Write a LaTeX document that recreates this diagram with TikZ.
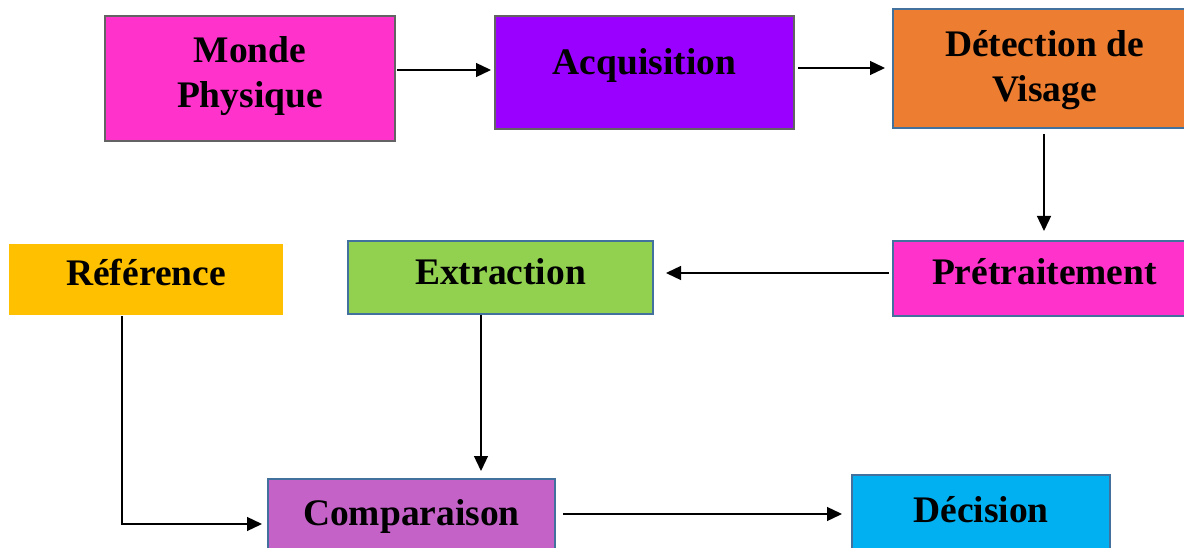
\documentclass[tikz,border=0pt]{standalone}
\usepackage{fontspec}
\setmainfont{Liberation Serif}
\usetikzlibrary{arrows.meta}

\definecolor{pinkbox}{HTML}{FF33CC}
\definecolor{violetbox}{HTML}{9900FF}
\definecolor{orangebox}{HTML}{ED7D31}
\definecolor{goldbox}{HTML}{FFC000}
\definecolor{greenbox}{HTML}{92D050}
\definecolor{orchidbox}{HTML}{C462C8}
\definecolor{cyanbox}{HTML}{00B0F0}
\definecolor{grayedge}{HTML}{636363}
\definecolor{blueedge}{HTML}{41719C}

% text inside a box: baseline placed #1 pt below the box centre
\newcommand{\boxtext}[2]{\raisebox{-#1pt}[0pt][0pt]{#2}}
\newcommand{\twolines}[2]{\begin{tabular}[b]{@{}c@{}}#1\\#2\end{tabular}}

\begin{document}
\begin{tikzpicture}[x=1pt,y=-1pt,
  stage/.style={rectangle, draw=blueedge, line width=2pt, inner sep=0pt,
    font=\fontsize{37.5}{45}\selectfont\bfseries},
  arr/.style={line width=1.3pt, -{Triangle[length=15pt,width=14pt]}}
]
\clip (0,0) rectangle (1184,548);
\fill[white] (0,0) rectangle (1184,548);

% boxes
\node[stage, draw=grayedge, fill=pinkbox, minimum width=290pt, minimum height=125pt]
  (mp) at (250,78.5) {\boxtext{29.5}{\twolines{Monde}{Physique}}};
\node[stage, draw=grayedge, fill=violetbox, minimum width=299pt, minimum height=113pt]
  (acq) at (644.5,72.5) {\boxtext{2.5}{Acquisition}};
\node[stage, fill=orangebox, minimum width=303pt, minimum height=119pt]
  (det) at (1044.5,68.5) {\boxtext{33.5}{\twolines{Détection de}{Visage}}};
\node[stage, fill=pinkbox, minimum width=303pt, minimum height=75pt]
  (pre) at (1044.5,278.5) {\boxtext{6.5}{Prétraitement}};
\node[stage, fill=greenbox, minimum width=305pt, minimum height=73pt]
  (ext) at (500.5,277.5) {\boxtext{7.5}{Extraction}};
\node[stage, draw=none, fill=goldbox, minimum width=274pt, minimum height=71pt]
  (ref) at (146,279.5) {\boxtext{6.5}{Référence}};
\node[stage, fill=orchidbox, minimum width=287pt, minimum height=73pt]
  (cmp) at (411.5,515.5) {\boxtext{9.5}{Comparaison}};
\node[stage, fill=cyanbox, minimum width=258pt, minimum height=75pt]
  (dec) at (981,512.5) {\boxtext{9.5}{Décision}};

% connectors
\draw[arr, shorten <=1pt, shorten >=3pt]
  ([yshift=8.5pt]mp.east) -- ([yshift=8.5pt]mp.east -| acq.west);
\draw[arr, shorten <=3pt, shorten >=7pt]
  ([yshift=4.5pt]acq.east) -- ([yshift=4.5pt]acq.east -| det.west);
\draw[arr, shorten <=5pt, shorten >=9pt]
  ([xshift=-0.5pt]det.south) -- ([xshift=-0.5pt]pre.north);
\draw[arr, shorten <=3pt, shorten >=12pt]
  ([yshift=5.5pt]pre.west) -- ([yshift=5.5pt]pre.west -| ext.east);
\draw[arr, shorten >=7pt]
  ([xshift=-19.5pt]ext.south) -- ([xshift=-19.5pt]ext.south |- cmp.north);
\draw[arr, shorten >=5pt]
  ([xshift=-24pt]ref.south) |- ([yshift=-8.5pt]cmp.west);
\draw[arr, shorten <=7pt, shorten >=9pt]
  ([yshift=1.5pt]cmp.east) -- ([yshift=1.5pt]cmp.east -| dec.west);
\end{tikzpicture}
\end{document}
